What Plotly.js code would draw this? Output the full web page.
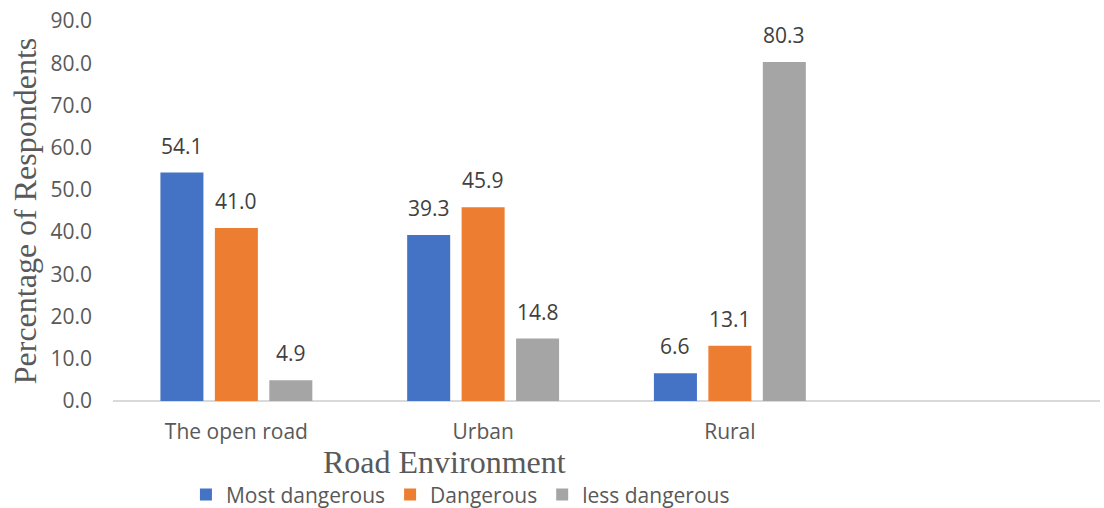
<!DOCTYPE html>
<html>
<head>
<meta charset="utf-8">
<script src="https://cdn.plot.ly/plotly-3.0.1.min.js"></script>
<style>
  html, body { margin: 0; padding: 0; background: #ffffff; }
  #chart { width: 1104px; height: 508px; }
</style>
</head>
<body>
<div id="chart"></div>
<script>
// Road environments rated by respondents
const categories = ["The open road", "Urban", "Rural"];
const seriesNames = ["Most dangerous", "Dangerous", "less dangerous"];
const mostDangerous = [54.1, 39.3, 6.6];
const dangerous = [41.0, 45.9, 13.1];
const lessDangerous = [4.9, 14.8, 80.3];
const yTicks = [0, 10, 20, 30, 40, 50, 60, 70, 80, 90];

const colors = ["#4472C4", "#ED7D31", "#A5A5A5"];
const seriesValues = [mostDangerous, dangerous, lessDangerous];

const bargap = 0.338;
const bargroupgap = 0.21;
const labelFont = "Open Sans, sans-serif";
const titleFont = "Liberation Serif, Times New Roman, serif";

const traces = seriesValues.map((vals, i) => ({
  type: "bar",
  name: seriesNames[i],
  x: categories,
  y: vals,
  marker: { color: colors[i] },
  hoverinfo: "x+y+name"
}));

// value labels above each bar, placed at the centre of its slot in the group
const slot = (1 - bargap) / seriesValues.length;
const annotations = [];
seriesValues.forEach((vals, i) => {
  const off = (i - (seriesValues.length - 1) / 2) * slot;
  vals.forEach((v, j) => {
    annotations.push({
      xref: "x", yref: "y",
      x: j + off, y: v,
      text: v.toFixed(1),
      showarrow: false,
      yanchor: "bottom",
      yshift: 11,
      font: { family: labelFont, size: 21, color: "#404040" }
    });
  });
});

// x-axis title
annotations.push({
  xref: "paper", yref: "paper",
  x: 0.336, y: -0.161,
  xanchor: "center", yanchor: "middle",
  text: "Road Environment",
  showarrow: false,
  font: { family: titleFont, size: 32, color: "#595959" }
});

const layout = {
  width: 1104,
  height: 508,
  margin: { l: 113, r: 4, t: 21, b: 107, autoexpand: false },
  paper_bgcolor: "#ffffff",
  plot_bgcolor: "#ffffff",
  barmode: "group",
  bargap: bargap,
  bargroupgap: bargroupgap,
  font: { family: labelFont, size: 21, color: "#595959" },
  xaxis: {
    type: "category",
    range: [-0.5, 3.5],
    showgrid: false,
    zeroline: false,
    showline: false,
    ticks: "",
    ticklabelstandoff: 16,
    tickfont: { family: labelFont, size: 21, color: "#595959" },
    fixedrange: true
  },
  yaxis: {
    range: [0, 90],
    tickvals: yTicks,
    tickformat: ".1f",
    showgrid: false,
    zeroline: true,
    zerolinecolor: "#d9d9d9",
    zerolinewidth: 1.5,
    showline: false,
    ticks: "",
    ticklabelstandoff: 20,
    tickfont: { family: labelFont, size: 21, color: "#595959" },
    title: {
      text: "Percentage of Respondents",
      font: { family: titleFont, size: 32, color: "#595959" },
      standoff: 4
    },
    fixedrange: true
  },
  showlegend: true,
  legend: {
    orientation: "h",
    x: 0.352, xanchor: "center",
    y: -0.247, yanchor: "middle",
    font: { family: labelFont, size: 21, color: "#595959" },
    bgcolor: "rgba(0,0,0,0)"
  },
  annotations: annotations
};

Plotly.newPlot("chart", traces, layout, { displayModeBar: false, staticPlot: true });
</script>
</body>
</html>
